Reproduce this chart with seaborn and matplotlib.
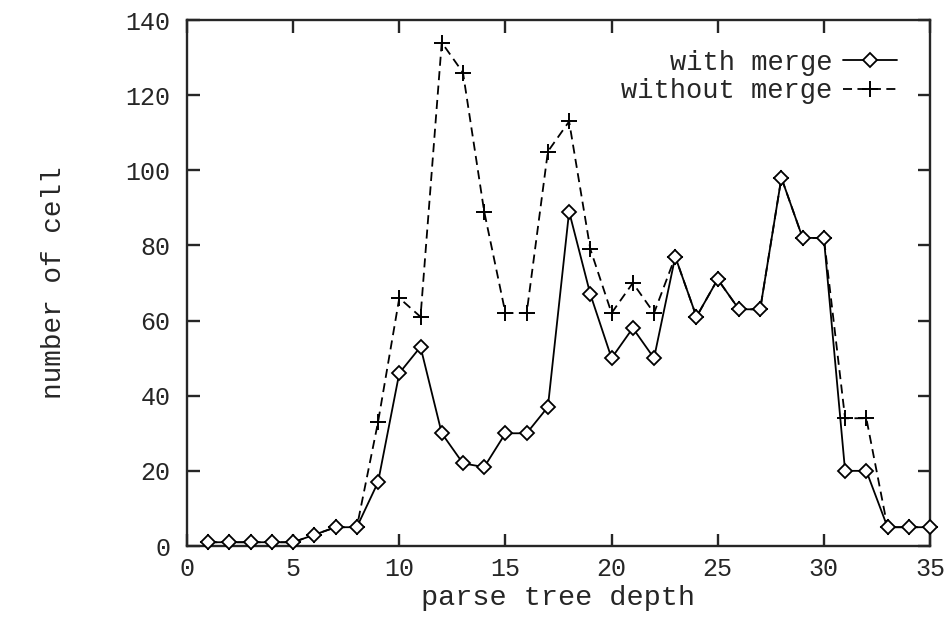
import matplotlib
matplotlib.use("Agg")
import matplotlib.pyplot as plt
import seaborn as sns
import pandas as pd

# --------------------
# Data
# --------------------
depth = list(range(1, 36))
with_merge = [1, 1, 1, 1, 1, 3, 5, 5, 17, 46, 53, 30, 22, 21, 30, 30, 37, 89,
              67, 50, 58, 50, 77, 61, 71, 63, 63, 98, 82, 82, 20, 20, 5, 5, 5]
without_merge = [1, 1, 1, 1, 1, 3, 5, 5, 33, 66, 61, 134, 126, 89, 62, 62, 105, 113,
                 79, 62, 70, 62, 77, 61, 71, 63, 63, 98, 82, 82, 34, 34, 5, 5, 5]

df = pd.DataFrame({"depth": depth, "with": with_merge, "without": without_merge})

# --------------------
# Style
# --------------------
sns.set_style("ticks")
plt.rcParams["font.family"] = ["Liberation Mono", "DejaVu Sans Mono"]
plt.rcParams["axes.linewidth"] = 1.7

fig = plt.figure(figsize=(9.45, 6.19), dpi=100)
ax = fig.add_axes([187 / 945, 1 - 546 / 619, (930 - 187) / 945, (546 - 20) / 619])

sns.lineplot(data=df, x="depth", y="with", ax=ax, color="black", lw=1.3,
             marker="D", markersize=7.5, markerfacecolor="white",
             markeredgecolor="black", markeredgewidth=1.3,
             label="with merge", zorder=3, clip_on=False)
sns.lineplot(data=df, x="depth", y="without", ax=ax, color="black", lw=1.3,
             linestyle=(0, (5, 3)), marker="+", markersize=11,
             markeredgecolor="black", markeredgewidth=1.4,
             label="without merge", zorder=2, clip_on=False)

ax.set_xlim(0, 35)
ax.set_ylim(0, 140)
ax.set_xticks(range(0, 36, 5))
ax.set_yticks(range(0, 141, 20))
ax.tick_params(direction="in", length=9, width=1.7, top=True, right=True,
               labelsize=18)
ax.tick_params(axis="x", pad=8)
ax.tick_params(axis="y", pad=12)
ax.set_xlabel("parse tree depth", fontsize=20.5, labelpad=3)
ax.set_ylabel("number of cell", fontsize=20, labelpad=42)

ax.legend(loc="upper right", frameon=False, markerfirst=False, fontsize=19.5,
          handlelength=2.0, handletextpad=0.4, borderaxespad=0.4,
          labelspacing=0.1, bbox_to_anchor=(0.985, 0.985))

fig.savefig("out.png", dpi=100)
